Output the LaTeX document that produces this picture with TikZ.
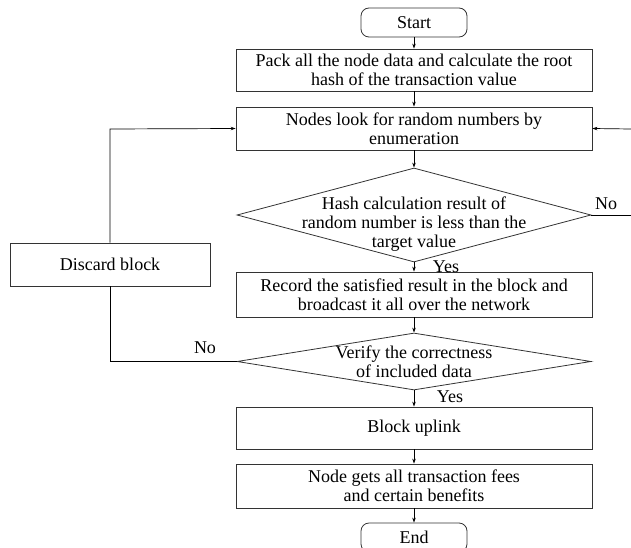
\documentclass[tikz,border=0pt]{standalone}
\usepackage{fontspec}
\setmainfont{Liberation Serif}
\usetikzlibrary{shapes.geometric,arrows.meta}
\begin{document}
\begin{tikzpicture}[x=1pt,y=-1pt,
  every node/.style={font=\fontsize{18}{19}\selectfont, align=center, inner sep=0pt},
  box/.style={draw=black!80, line width=0.8pt, minimum width=356pt},
  term/.style={draw=black!80, line width=0.8pt, rounded corners=8pt, minimum width=106pt, minimum height=29pt},
  decision/.style={draw=black!80, line width=0.8pt, diamond, minimum width=#1, inner sep=0pt},
  flow/.style={line width=0.7pt, -{Stealth[length=5pt,width=3.5pt]}},
  link/.style={line width=0.7pt},
  lbl/.style={font=\fontsize{18}{19}\selectfont}]
\useasboundingbox (0,0) rectangle (631,548);
\begin{scope}
\clip (0,0) rectangle (631,548);

% main column
\node[term] (start) at (414,22.5) {Start};
\node[box, minimum height=42pt] (pack) at (414,70) {Pack all the node data and calculate the root\\hash of the transaction value};
\node[box, minimum height=43pt] (enum) at (414,128.5) {Nodes look for random numbers by\\enumeration};
\node[decision=354pt, minimum height=94pt] (hashd) at (414,215) {};
\node (hasht) at (414,224) {Hash calculation result of\\random number is less than the\\target value};
\node[box, minimum height=45pt] (record) at (414,294.5) {Record the satisfied result in the block and\\broadcast it all over the network};
\node[decision=354pt, minimum height=57pt] (verd) at (414,361.5) {};
\node (vert) at (414,362) {Verify the correctness\\of included data};
\node[box, minimum height=42pt] (uplink) at (414,428) {Block uplink};
\node[box, minimum height=44pt] (fees) at (414,486) {Node gets all transaction fees\\and certain benefits};
\node[term] (end) at (414,537.5) {End};

% side branch
\node[box, minimum width=200pt, minimum height=43pt] (discard) at (110,264.5) {Discard block};

\coordinate (rtop) at (631,129);
\coordinate (rbot) at (631,215);
\coordinate (lbot) at (110,361.5);
\coordinate (ltop) at (110,129);

% vertical flow
\draw[flow] (start) -- (pack);
\draw[flow] (pack) -- (enum);
\draw[flow] (enum) -- (hashd.north);
\draw[flow] (hashd.south) -- (record);
\draw[flow] (record) -- (verd.north);
\draw[flow] (verd.south) -- (uplink);
\draw[flow] (uplink) -- (fees);
\draw[flow] (fees) -- (end);

% loops
\draw[link] (hashd.east) -- (rbot);
\draw[flow] (rtop) -- (enum.east);
\draw[link] (verd.west) -- (lbot) -- (discard.south);
\draw[flow] (discard.north) -- (ltop) -- (enum.west);

% labels
\node[lbl] (yes1) at (446,267) {Yes};
\node[lbl] (yes2) at (450,397) {Yes};
\node[lbl] (no1) at (606,204) {No};
\node[lbl] (no2) at (205,348) {No};
\end{scope}
\end{tikzpicture}
\end{document}
